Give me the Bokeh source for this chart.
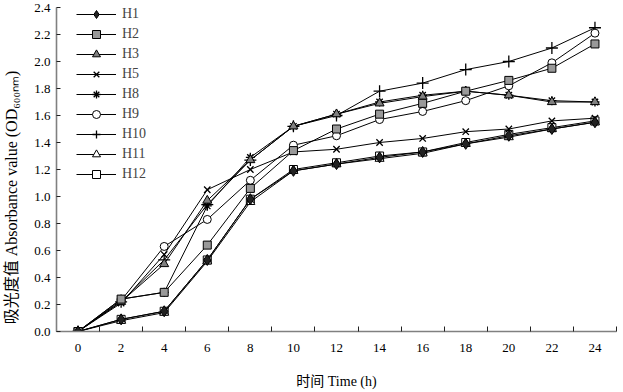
from bokeh.plotting import figure
from bokeh.models import FixedTicker, Legend, LegendItem, PrintfTickFormatter
from bokeh.embed import file_html
from bokeh.resources import INLINE

times = [0, 2, 4, 6, 8, 10, 12, 14, 16, 18, 20, 22, 24]
H1 = [0.00, 0.09, 0.15, 0.53, 0.98, 1.19, 1.24, 1.29, 1.33, 1.39, 1.45, 1.50, 1.55]
H2 = [0.00, 0.24, 0.29, 0.64, 1.06, 1.34, 1.50, 1.61, 1.69, 1.78, 1.86, 1.95, 2.13]
H3 = [0.00, 0.22, 0.50, 0.97, 1.27, 1.52, 1.61, 1.69, 1.74, 1.78, 1.75, 1.70, 1.70]
H5 = [0.00, 0.21, 0.57, 1.05, 1.20, 1.33, 1.35, 1.40, 1.43, 1.48, 1.50, 1.56, 1.58]
H8 = [0.00, 0.24, 0.29, 0.93, 1.29, 1.52, 1.61, 1.70, 1.75, 1.78, 1.75, 1.71, 1.70]
H9 = [0.00, 0.23, 0.63, 0.83, 1.12, 1.38, 1.45, 1.57, 1.63, 1.71, 1.82, 1.99, 2.21]
H10 = [0.00, 0.22, 0.53, 0.94, 1.27, 1.52, 1.60, 1.78, 1.84, 1.94, 2.00, 2.10, 2.25]
H11 = [0.00, 0.08, 0.14, 0.52, 0.96, 1.19, 1.24, 1.28, 1.32, 1.39, 1.44, 1.50, 1.55]
H12 = [0.00, 0.09, 0.15, 0.53, 0.98, 1.20, 1.25, 1.30, 1.33, 1.40, 1.46, 1.51, 1.56]

series_names = ["H1", "H2", "H3", "H5", "H8", "H9", "H10", "H11", "H12"]
series_values = [H1, H2, H3, H5, H8, H9, H10, H11, H12]
x_tick_labels = [str(t) for t in times]
y_ticks = [0.0, 0.2, 0.4, 0.6, 0.8, 1.0, 1.2, 1.4, 1.6, 1.8, 2.0, 2.2, 2.4]

styles = {
    "H1": dict(marker="diamond", size=11, fill_color="#222222"),
    "H2": dict(marker="square", size=8, fill_color="#999999"),
    "H3": dict(marker="triangle", size=9, fill_color="#808080"),
    "H5": dict(marker="x", size=9, fill_color=None),
    "H8": dict(marker="asterisk", size=9, fill_color=None),
    "H9": dict(marker="circle", size=8, fill_color="white"),
    "H10": dict(marker="cross", size=12, fill_color=None),
    "H11": dict(marker="triangle", size=9, fill_color="white"),
    "H12": dict(marker="square", size=8, fill_color="white"),
}

SERIF = "Liberation Serif"
MIXED = "Liberation Serif, Noto Sans CJK SC"

p = figure(frame_width=560, frame_height=324,
           min_border_left=56, min_border_right=3, min_border_top=7, min_border_bottom=56,
           x_range=(-1, 25), y_range=(0, 2.4),
           output_backend="svg", toolbar_location=None)
p.outline_line_color = None
p.xgrid.visible = False
p.ygrid.visible = False

items = {}
# draw in reverse so the dark filled markers sit on top
for name, vals in reversed(list(zip(series_names, series_values))):
    st = styles[name]
    r_line = p.line(times, vals, line_color="black", line_width=1)
    r_pt = p.scatter(times, vals, marker=st["marker"], size=st["size"],
                     fill_color=st["fill_color"], line_color="black",
                     line_width=1.3 if st["marker"] in ("x", "asterisk", "cross") else 1)
    items[name] = LegendItem(label=name, renderers=[r_line, r_pt])

legend = Legend(items=[items[n] for n in series_names], location=(20, 147),
                glyph_width=40, glyph_height=20,
                label_height=20, spacing=0, padding=0, margin=0, label_standoff=6,
                border_line_color=None, background_fill_alpha=0,
                label_text_font=SERIF, label_text_font_size="14px")
p.add_layout(legend)

# x axis
p.xaxis.ticker = FixedTicker(ticks=times, minor_ticks=[t - 1 for t in times] + [25])
p.xaxis.major_label_overrides = {t: lab for t, lab in zip(times, x_tick_labels)}
p.xaxis.major_tick_in = 0
p.xaxis.major_tick_out = 0
p.xaxis.minor_tick_in = 5
p.xaxis.minor_tick_out = 0
p.xaxis.minor_tick_line_color = "#222222"
p.xaxis.major_label_standoff = 12
p.xaxis.axis_label = "时间 Time (h)"
p.xaxis.axis_label_standoff = 19

# y axis
p.yaxis.ticker = FixedTicker(ticks=y_ticks, minor_ticks=[])
p.yaxis.formatter = PrintfTickFormatter(format="%.1f")
p.yaxis.major_tick_in = 4
p.yaxis.major_tick_out = 0
p.yaxis.major_label_standoff = 6
p.yaxis.axis_label = "吸光度值 Absorbance value (OD₆₀₀ₙₘ)" + "\u2003" * 3 + "\u2002"
p.yaxis.axis_label_standoff = 11

for ax in (p.xaxis, p.yaxis):
    ax.axis_line_color = "#808080"
    ax.axis_line_width = 1.6
    ax.major_tick_line_color = "#222222"
    ax.major_label_text_font = SERIF
    ax.major_label_text_font_size = "13px"
    ax.major_label_text_color = "black"
    ax.axis_label_text_font = MIXED
    ax.axis_label_text_font_size = "14px"
    ax.axis_label_text_font_style = "normal"
    ax.axis_label_text_color = "black"
p.yaxis.axis_label_text_font_size = "16px"

open("out.html", "w").write(file_html(p, INLINE))
